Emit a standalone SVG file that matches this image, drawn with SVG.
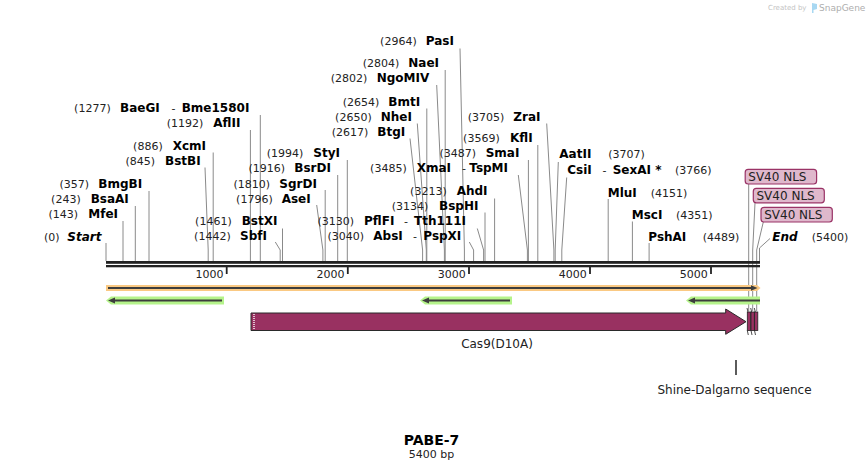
<svg xmlns="http://www.w3.org/2000/svg" width="866" height="471" viewBox="0 0 866 471">
<style>
text{font-family:"DejaVu Sans",Verdana,sans-serif}
.n{font-size:11px;fill:#222}
.ne{font-size:11px;fill:#222;text-anchor:end}
.b{font-size:12px;font-weight:bold;fill:#000}
.bi{font-size:12px;font-weight:bold;font-style:italic;fill:#000}
.d{font-size:11px;fill:#222}
.ln{stroke:#8a8a8a;stroke-width:1;fill:none}
.tk{stroke:#222;stroke-width:1.8}
.tl{font-size:11px;fill:#222;text-anchor:end}
.lab{font-size:12px;fill:#222}
.nls{fill:#dfb8cc;stroke:#9a3366;stroke-width:1.2}
</style>
<rect width="866" height="471" fill="#fff"/>

<g id="logo">
<text x="768" y="10" style="font-size:7px;fill:#c4c4c4">Created by</text>
<path d="M812,3 L817,4 L817,9 L813.5,10 L813.5,13 L812,13 Z" fill="#a8d8f2"/>
<text x="819" y="11" style="font-size:9px;fill:#aeaeae">SnapGene</text>
</g>

<g id="connectors">
<path class="ln" d="M106,243 V261"/>
<path class="ln" d="M123,221 V261"/>
<path class="ln" d="M135.3,206 V261"/>
<path class="ln" d="M149,191 V261"/>
<path class="ln" d="M205,167.5 L208.2,250 V261"/>
<path class="ln" d="M213.2,152.5 V261"/>
<path class="ln" d="M250.4,130 V261"/>
<path class="ln" d="M260.3,115 V261"/>
<path class="ln" d="M275.3,242 L280.2,250 V261"/>
<path class="ln" d="M282.5,228.5 V261"/>
<path class="ln" d="M316.7,205 L322.9,250 V261"/>
<path class="ln" d="M325.2,190 V261"/>
<path class="ln" d="M337.7,175 V261"/>
<path class="ln" d="M347.3,160 V261"/>
<path class="ln" d="M410,138.5 L422.6,250 V261"/>
<path class="ln" d="M417.3,123.5 L426.3,250 V261"/>
<path class="ln" d="M426.8,108.5 V261"/>
<path class="ln" d="M436.7,85 L444.4,250 V261"/>
<path class="ln" d="M445.2,70 V261"/>
<path class="ln" d="M460,48.5 L464.4,250 V261"/>
<path class="ln" d="M469.3,242 L473.6,250 V261"/>
<path class="ln" d="M477.3,228.5 L483.6,250 V261"/>
<path class="ln" d="M485,212.5 V261"/>
<path class="ln" d="M494.6,198.5 V261"/>
<path class="ln" d="M518.3,175 L527.4,250 V261"/>
<path class="ln" d="M528.4,160 V261"/>
<path class="ln" d="M537.8,145 V261"/>
<path class="ln" d="M546.7,123.5 L553.9,250 V261"/>
<path class="ln" d="M558.3,162 L555.2,250 V261"/>
<path class="ln" d="M566.7,177.5 L561.8,250 V261"/>
<path class="ln" d="M608.2,199 V261"/>
<path class="ln" d="M632.4,221.5 V261"/>
<path class="ln" d="M649.1,243 V261"/>
<path class="ln" d="M770,238.5 L759.5,248 V261"/>
<path class="ln" d="M748.7,184 V311"/>
<path class="ln" d="M755,203 L752.7,250 V311"/>
<path class="ln" d="M763.3,222 L756.7,250 V311"/>
</g>

<g id="backbone">
<rect x="106" y="261" width="654" height="2.8" fill="#222"/>
<rect x="106" y="265" width="654" height="2.3" fill="#222"/>
<line class="tk" x1="226.7" y1="267" x2="226.7" y2="274"/>
<line class="tk" x1="347.8" y1="267" x2="347.8" y2="274"/>
<line class="tk" x1="469" y1="267" x2="469" y2="274"/>
<line class="tk" x1="590" y1="267" x2="590" y2="274"/>
<line class="tk" x1="711" y1="267" x2="711" y2="274"/>
<text class="tl" x="223.5" y="277.5">1000</text>
<text class="tl" x="344.6" y="277.5">2000</text>
<text class="tl" x="465.8" y="277.5">3000</text>
<text class="tl" x="586.8" y="277.5">4000</text>
<text class="tl" x="707.8" y="277.5">5000</text>
</g>

<g id="orange-feature">
<path d="M106,285 L757,285 L760.5,288 L757,291 L106,291 Z" fill="#fac983"/>
<line x1="108" y1="288" x2="752" y2="288" stroke="#3d3d3d" stroke-width="2"/>
<path d="M751,285.3 L757.5,288 L751,290.7 Z" fill="#3d3d3d"/>
</g>

<g id="green-features">
<path d="M106,300.5 L111,296.5 L224,296.5 L224,304.5 L111,304.5 Z" fill="#b5f38b"/>
<line x1="113" y1="300.5" x2="222" y2="300.5" stroke="#3d3d3d" stroke-width="2"/>
<path d="M108,300.5 L115,297.5 L115,303.5 Z" fill="#3d3d3d"/>
<path d="M420,300.5 L425,296.5 L512,296.5 L512,304.5 L425,304.5 Z" fill="#b5f38b"/>
<line x1="427" y1="300.5" x2="510" y2="300.5" stroke="#3d3d3d" stroke-width="2"/>
<path d="M422,300.5 L429,297.5 L429,303.5 Z" fill="#3d3d3d"/>
<path d="M686,300.5 L691,296.5 L760,296.5 L760,304.5 L691,304.5 Z" fill="#b5f38b"/>
<line x1="693" y1="300.5" x2="760" y2="300.5" stroke="#3d3d3d" stroke-width="2"/>
<path d="M688,300.5 L695,297.5 L695,303.5 Z" fill="#3d3d3d"/>
</g>

<g id="cas9">
<path d="M251,313 L725.7,313 L725.7,309 L746,321.7 L725.7,334.3 L725.7,330.5 L251,330.5 Z" fill="#993161" stroke="#2a2a2a" stroke-width="1"/>
<line x1="254" y1="314" x2="254" y2="330" stroke="#fff" stroke-width="1.4" stroke-dasharray="1,1"/>
<text class="lab" x="497" y="347.5" text-anchor="middle">Cas9(D10A)</text>
</g>

<g id="sv40-nls">
<rect x="747.3" y="312" width="3.4" height="18.5" fill="#993161" stroke="#222" stroke-width="0.8"/>
<rect x="751" y="312" width="3.3" height="18.5" fill="#993161" stroke="#222" stroke-width="0.8"/>
<rect x="754.5" y="312" width="3.3" height="18.5" fill="#993161" stroke="#222" stroke-width="0.8"/>
<path d="M747,308 L748,312 M750.7,308 L751.7,312 M754.3,308 L755.3,312 M747.3,330.5 L748.3,335 M751,330.5 L752,335 M754.5,330.5 L755.5,335" stroke="#222" stroke-width="0.8"/>
<rect class="nls" x="745.2" y="169.4" width="71.4" height="14.6" rx="3"/>
<text class="lab" x="748.3" y="181">SV40 NLS</text>
<rect class="nls" x="753.3" y="188.4" width="71" height="14.4" rx="3"/>
<text class="lab" x="756.5" y="200">SV40 NLS</text>
<rect class="nls" x="761" y="207.4" width="71.3" height="14.6" rx="3"/>
<text class="lab" x="764.2" y="219">SV40 NLS</text>
</g>

<g id="shine-dalgarno">
<line x1="736" y1="360" x2="736" y2="375" stroke="#333" stroke-width="1.6"/>
<text class="lab" x="734.5" y="394" text-anchor="middle">Shine-Dalgarno sequence</text>
</g>

<g id="enzymes">
<g id="start"><text class="ne" x="59.5" y="240.7">(0)</text><text class="bi" x="67.3" y="240.7">Start</text></g>
<g id="MfeI"><text class="ne" x="78" y="218.3">(143)</text><text class="b" x="88.3" y="218.3">MfeI</text></g>
<g id="BsaAI"><text class="ne" x="80.7" y="203.3">(243)</text><text class="b" x="90.7" y="203.3">BsaAI</text></g>
<g id="BmgBI"><text class="ne" x="89" y="188.3">(357)</text><text class="b" x="98.3" y="188.3">BmgBI</text></g>
<g id="BstBI"><text class="ne" x="155" y="165">(845)</text><text class="b" x="165" y="165">BstBI</text></g>
<g id="XcmI"><text class="ne" x="162.7" y="150">(886)</text><text class="b" x="172.7" y="150">XcmI</text></g>
<g id="BaeGI"><text class="ne" x="110.7" y="111.7">(1277)</text><text class="b" x="120" y="111.7">BaeGI</text><text class="d" x="171.5" y="111.7">-</text><text class="b" x="181.7" y="111.7">Bme1580I</text></g>
<g id="AflII"><text class="ne" x="203.3" y="126.7">(1192)</text><text class="b" x="213.3" y="126.7">AflII</text></g>
<g id="BstXI"><text class="ne" x="231.7" y="225">(1461)</text><text class="b" x="241.7" y="225">BstXI</text></g>
<g id="SbfI"><text class="ne" x="230.7" y="240">(1442)</text><text class="b" x="240" y="240">SbfI</text></g>
<g id="StyI"><text class="ne" x="303.3" y="157.3">(1994)</text><text class="b" x="313.3" y="157.3">StyI</text></g>
<g id="BsrDI"><text class="ne" x="285" y="172.3">(1916)</text><text class="b" x="294.3" y="172.3">BsrDI</text></g>
<g id="SgrDI"><text class="ne" x="270" y="187.7">(1810)</text><text class="b" x="279.3" y="187.7">SgrDI</text></g>
<g id="AseI"><text class="ne" x="272.7" y="202.7">(1796)</text><text class="b" x="281.7" y="202.7">AseI</text></g>
<g id="PflFI"><text class="ne" x="354" y="225">(3130)</text><text class="b" x="364" y="225">PflFI</text><text class="d" x="404" y="225">-</text><text class="b" x="414" y="225">Tth111I</text></g>
<g id="AbsI"><text class="ne" x="364" y="240">(3040)</text><text class="b" x="373.3" y="240">AbsI</text><text class="d" x="413" y="240">-</text><text class="b" x="423.3" y="240">PspXI</text></g>
<g id="BspHI"><text class="ne" x="428.3" y="210">(3134)</text><text class="b" x="439" y="210">BspHI</text></g>
<g id="AhdI"><text class="ne" x="446.7" y="195">(3213)</text><text class="b" x="456.7" y="195">AhdI</text></g>
<g id="XmaI"><text class="ne" x="406.7" y="171.7">(3485)</text><text class="b" x="416.7" y="171.7">XmaI</text><text class="d" x="462" y="171.7">-</text><text class="b" x="469.3" y="171.7">TspMI</text></g>
<g id="SmaI"><text class="ne" x="476" y="156.7">(3487)</text><text class="b" x="485.7" y="156.7">SmaI</text></g>
<g id="KflI"><text class="ne" x="499.7" y="141.7">(3569)</text><text class="b" x="510" y="141.7">KflI</text></g>
<g id="ZraI"><text class="ne" x="504.3" y="120.7">(3705)</text><text class="b" x="513.3" y="120.7">ZraI</text></g>
<g id="PasI"><text class="ne" x="416.7" y="45">(2964)</text><text class="b" x="425.7" y="45">PasI</text></g>
<g id="NaeI"><text class="ne" x="399.3" y="66.7">(2804)</text><text class="b" x="408.3" y="66.7">NaeI</text></g>
<g id="NgoMIV"><text class="ne" x="367.3" y="82.3">(2802)</text><text class="b" x="376.7" y="82.3">NgoMIV</text></g>
<g id="BmtI"><text class="ne" x="379.3" y="106">(2654)</text><text class="b" x="388.3" y="106">BmtI</text></g>
<g id="NheI"><text class="ne" x="371.7" y="120.7">(2650)</text><text class="b" x="380.7" y="120.7">NheI</text></g>
<g id="BtgI"><text class="ne" x="368.3" y="136">(2617)</text><text class="b" x="377.3" y="136">BtgI</text></g>
<g id="AatII"><text class="b" x="559.3" y="158.3">AatII</text><text class="n" x="608.3" y="158.3">(3707)</text></g>
<g id="CsiI"><text class="b" x="567.3" y="174">CsiI</text><text class="d" x="602.5" y="174">-</text><text class="b" x="612.7" y="174">SexAI *</text><text class="n" x="675" y="174">(3766)</text></g>
<g id="MluI"><text class="b" x="607.7" y="196.7">MluI</text><text class="n" x="650.7" y="196.7">(4151)</text></g>
<g id="MscI"><text class="b" x="631.7" y="219.3">MscI</text><text class="n" x="676" y="219.3">(4351)</text></g>
<g id="PshAI"><text class="b" x="648.3" y="240.7">PshAI</text><text class="n" x="702.7" y="240.7">(4489)</text></g>
<g id="end"><text class="bi" x="772.3" y="240.7">End</text><text class="n" x="811.7" y="240.7">(5400)</text></g>
</g>

<g id="title">
<text x="431.5" y="444.5" text-anchor="middle" style="font-size:14px;font-weight:bold;fill:#000">PABE-7</text>
<text x="431.5" y="457.5" text-anchor="middle" style="font-size:11px;fill:#222">5400 bp</text>
</g>
</svg>
